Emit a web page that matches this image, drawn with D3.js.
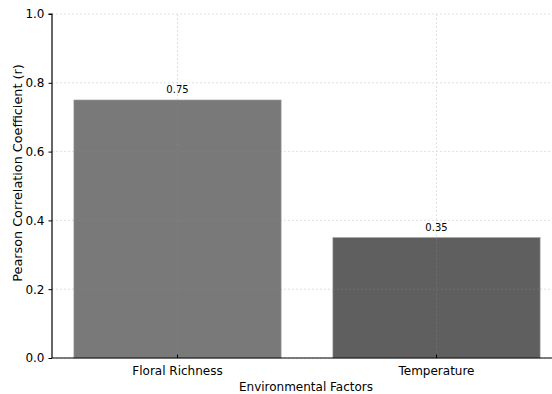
<!DOCTYPE html>
<html><head><meta charset="utf-8">
<script src="https://cdn.jsdelivr.net/npm/d3@7"></script>
<style>body{margin:0;background:#fff;} text{font-family:"DejaVu Sans",sans-serif;}</style>
</head><body><svg id="c" width="552" height="394"></svg>
<script>
const categories = ["Floral Richness", "Temperature"];
const values = [0.75, 0.35];
const barColors = ["#797979", "#5f5f5f"];
const yTicks = [0.0, 0.2, 0.4, 0.6, 0.8, 1.0];

(function(){
const svg = d3.select("#c");
const mLeft = 52, mTop = 14, mBottom = 358;
const x = d3.scaleLinear().domain([-0.49, 1.49]).range([50.6, 563.4]);
const y = d3.scaleLinear().domain([0, 1]).range([mBottom, mTop]);
const bw = 0.8;

// grid
const g = svg.append("g");
g.selectAll("line.h").data(yTicks).join("line")
  .attr("x1", mLeft).attr("x2", 552).attr("y1", d => y(d)).attr("y2", d => y(d))
  .attr("stroke", "#d8d8d8").attr("stroke-width", 0.8).attr("stroke-dasharray", "2,2");
g.selectAll("line.v").data(categories).join("line")
  .attr("x1", (d,i) => x(i)).attr("x2", (d,i) => x(i)).attr("y1", mTop).attr("y2", mBottom)
  .attr("stroke", "#d8d8d8").attr("stroke-width", 0.8).attr("stroke-dasharray", "2,2");

// bars
svg.selectAll("rect.bar").data(values).join("rect")
  .attr("x", (d,i) => x(i - bw/2)).attr("width", (d,i) => x(i + bw/2) - x(i - bw/2))
  .attr("y", d => y(d)).attr("height", d => mBottom - y(d))
  .attr("fill", (d,i) => barColors[i]).attr("stroke", "#9a9a9a").attr("stroke-width", 0.6);

// grid visible over bars faintly
svg.selectAll("line.vg").data(categories).join("line")
  .attr("x1", (d,i) => x(i)).attr("x2", (d,i) => x(i)).attr("y1", (d,i)=>y(values[i])).attr("y2", mBottom)
  .attr("stroke", "#8a8a8a").attr("stroke-width", 0.6).attr("stroke-dasharray", "2,2").attr("opacity", 0.6);
yTicks.filter(t => t > 0).forEach(t => {
  values.forEach((v, i) => {
    if (v > t) {
      svg.append("line").attr("x1", x(i - bw/2)).attr("x2", x(i + bw/2)).attr("y1", y(t)).attr("y2", y(t))
        .attr("stroke", "#8a8a8a").attr("stroke-width", 0.6).attr("stroke-dasharray", "2,2").attr("opacity", 0.6);
    }
  });
});

// value labels
svg.selectAll("text.val").data(values).join("text")
  .attr("x", (d,i) => x(i)).attr("y", d => y(d) - 7)
  .attr("text-anchor", "middle").attr("font-size", 10).attr("fill", "#000")
  .text(d => d.toFixed(2));

// y axis
const yAxis = d3.axisLeft(y).tickValues(yTicks).tickFormat(d3.format(".1f")).tickSize(3.5).tickPadding(4);
const ya = svg.append("g").attr("transform", `translate(${mLeft},0)`).call(yAxis);
ya.select(".domain").attr("stroke", "#000").attr("stroke-width", 1.2).attr("d", `M-3.5,${mTop}H0V${mBottom}`);
ya.selectAll("text").attr("font-size", 12).attr("fill", "#000").style("font-family", "DejaVu Sans");

// x axis
const xa = svg.append("g").attr("transform", `translate(0,${mBottom})`);
xa.append("line").attr("x1", mLeft).attr("x2", 552).attr("y1", 0).attr("y2", 0).attr("stroke", "#000").attr("stroke-width", 1.2);
xa.selectAll("line.t").data(categories).join("line")
  .attr("x1", (d,i) => x(i)).attr("x2", (d,i) => x(i)).attr("y1", -3.5).attr("y2", 0)
  .attr("stroke", "#000").attr("stroke-width", 1);
xa.selectAll("text").data(categories).join("text")
  .attr("x", (d,i) => x(i)).attr("y", 17).attr("text-anchor", "middle")
  .attr("font-size", 12).attr("fill", "#000").text(d => d);

// labels
svg.append("text").attr("x", 306).attr("y", 391).attr("text-anchor", "middle")
  .attr("font-size", 12).attr("fill", "#000").text("Environmental Factors");
svg.append("text").attr("transform", "translate(22,173) rotate(-90)").attr("text-anchor", "middle")
  .attr("font-size", 12.8).attr("fill", "#000").text("Pearson Correlation Coefficient (r)");
})();
</script></body></html>
